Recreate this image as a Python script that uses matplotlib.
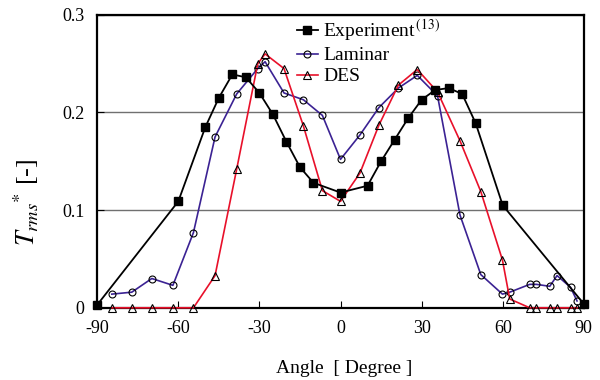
import matplotlib
matplotlib.use('Agg')
import matplotlib.pyplot as plt

plt.rcParams['font.family'] = ['Liberation Serif', 'DejaVu Serif']
plt.rcParams['mathtext.fontset'] = 'stix'
plt.rcParams['axes.unicode_minus'] = False

# Experiment (13)
exp_angle = [-90, -60, -50, -45, -40, -35, -30, -25, -20, -15, -10, 0,
             10, 15, 20, 25, 30, 35, 40, 45, 50, 60, 90]
exp_trms = [0.003, 0.109, 0.185, 0.215, 0.239, 0.236, 0.220, 0.198, 0.170,
            0.144, 0.128, 0.118, 0.125, 0.150, 0.172, 0.194, 0.213, 0.223,
            0.225, 0.219, 0.189, 0.105, 0.004]

# simulation sample points (Laminar and DES share them)
sim_angle = [-84.6, -77.2, -69.8, -62.0, -54.4, -46.4, -38.4, -30.6, -27.9,
             -20.9, -13.7, -6.7, 0.0, 7.2, 14.2, 21.4, 28.4, 35.9, 44.2,
             51.9, 59.9, 62.6, 70.0, 72.5, 77.4, 80.1, 85.1, 87.5]
lam_trms = [0.014, 0.016, 0.030, 0.023, 0.077, 0.175, 0.219, 0.245, 0.252,
            0.220, 0.213, 0.197, 0.152, 0.177, 0.205, 0.225, 0.238, 0.217,
            0.095, 0.034, 0.014, 0.016, 0.024, 0.024, 0.022, 0.033, 0.021,
            0.007]
des_trms = [0.0, 0.0, 0.0, 0.0, 0.0, 0.033, 0.142, 0.250, 0.260,
            0.245, 0.186, 0.120, 0.109, 0.138, 0.187, 0.228, 0.244, 0.221,
            0.171, 0.119, 0.049, 0.009, 0.0, 0.0, 0.0, 0.0, 0.0, 0.0]

xticks = [-90, -60, -30, 0, 30, 60, 90]
yticks = [0, 0.1, 0.2, 0.3]
ytick_labels = ['0', '0.1', '0.2', '0.3']

fig = plt.figure(figsize=(6, 3.8), dpi=100)
ax = fig.add_axes([0.162, 0.19, 0.811, 0.771])

ax.plot(exp_angle, exp_trms, color='black', lw=1.3, marker='s', ms=5.5,
        mfc='black', mec='black', clip_on=False, zorder=4,
        label=r'Experiment$^{\,(13)}$')
ax.plot(sim_angle, lam_trms, color='#3b2293', lw=1.2, marker='o', ms=5,
        mfc='none', mec='black', mew=0.8, clip_on=False, zorder=3,
        label='Laminar')
ax.plot(sim_angle, des_trms, color='#e8102a', lw=1.2, marker='^', ms=6,
        mfc='none', mec='black', mew=0.8, clip_on=False, zorder=3,
        label='DES')

ax.set_xlim(-90, 90)
ax.set_ylim(0, 0.3)
ax.set_xticks(xticks)
ax.set_xticklabels([str(t) for t in xticks])
ax.set_yticks(yticks)
ax.set_yticklabels(ytick_labels)
ax.tick_params(direction='in', labelsize=13, length=5, width=0.8, pad=9)
ax.yaxis.grid(True, color='#707070', lw=1.0)
ax.set_axisbelow(True)
for s in ax.spines.values():
    s.set_linewidth(1.6)

ax.set_xlabel('Angle  [ Degree ]', fontsize=14, labelpad=16)
ax.xaxis.label.set_x(0.508)
ax.set_ylabel(r'$T_{rms}{}^{*}$ [-]', fontsize=19)
ax.yaxis.set_label_coords(-0.115, 0.36)

ax.legend(loc='upper left', bbox_to_anchor=(0.482, 0.975),
          bbox_transform=fig.transFigure, frameon=False, fontsize=14,
          handlelength=1.08, handletextpad=0.26, labelspacing=0.18,
          borderaxespad=0)

fig.savefig('out.png', dpi=100)
